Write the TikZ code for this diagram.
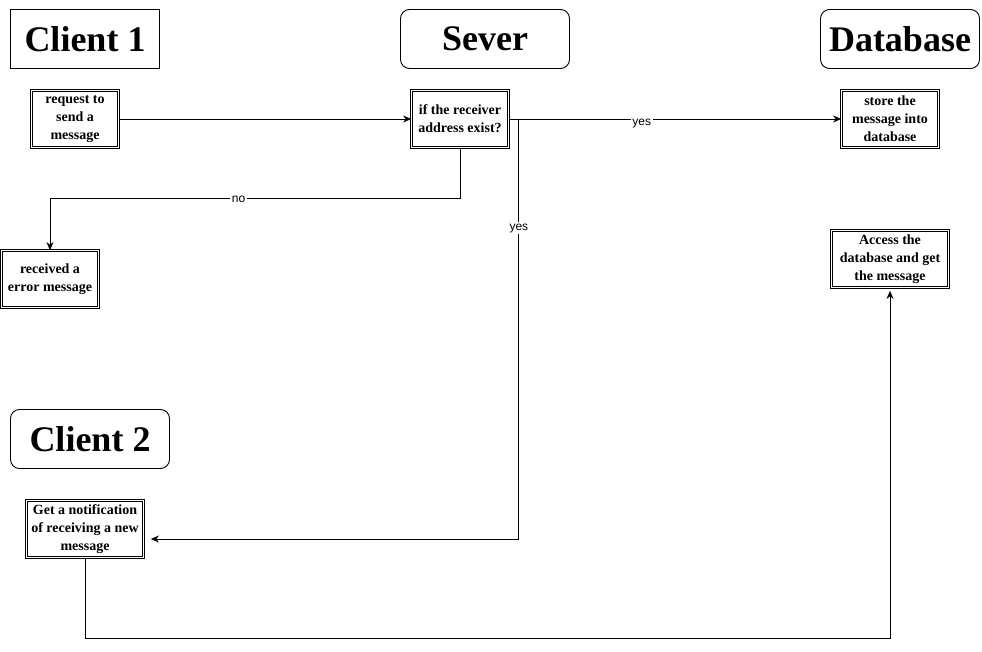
\documentclass[tikz,border=0pt]{standalone}
\usepackage{fontspec}
\setmainfont{Liberation Serif}
\newfontfamily\edgefont{Liberation Sans}
\usetikzlibrary{arrows.meta}

\begin{document}
\begin{tikzpicture}[x=1pt, y=-1pt,
  title/.style={draw, line width=0.9pt, minimum height=59pt, inner sep=0pt,
    font=\fontsize{36}{40}\selectfont\bfseries},
  rtitle/.style={title, rounded corners=9pt},
  stepbox/.style={draw, double, line width=0.7pt, double distance=1.5pt,
    minimum height=57pt, inner sep=0pt, align=center,
    font=\fontsize{14}{18}\selectfont\bfseries},
  flow/.style={-{Stealth[length=8pt,width=7pt,inset=2.5pt]}, line width=0.8pt},
  lbl/.style={fill=white, inner sep=1.5pt, font=\edgefont\fontsize{12}{14}\selectfont}]

\useasboundingbox (0,0) rectangle (982,652);

% Nadpisy
\node[title, minimum width=149pt] (client1) at (85,39) {Client 1};
\node[rtitle, minimum width=169pt] (sever) at (485,39) {Sever};
\node[rtitle, minimum width=159pt] (database) at (900,39) {Database};
\node[rtitle, minimum width=159pt] (client2) at (90,439) {Client 2};

% Kroky
\node[stepbox, minimum width=87pt] (request) at (75,119) {request to\\send a\\message};
\node[stepbox, minimum width=97pt] (check) at (460,119) {if the receiver\\address exist?};
\node[stepbox, minimum width=97pt] (store) at (890,119) {store the\\message into\\database};
\node[stepbox, minimum width=97pt] (error) at (50,279) {received a\\error message};
\node[stepbox, minimum width=117pt] (access) at (890,259) {Access the\\database and get\\the message};
\node[stepbox, minimum width=117pt] (notify) at (85,529) {Get a notification\\of receiving a new\\message};

\coordinate (fork) at ([xshift=10pt]check.east);

% Spojnice
\draw[flow] (request.east) -- (check.west);
\draw[flow] (check.east) -- node[lbl, pos=0.4, yshift=-5pt] {yes} (store.west);
\draw[flow] (check.south) -- ++(0,51) -| node[lbl, pos=0.27] {no} (error.north);
\draw[flow, shorten >=7pt] (fork) |- node[lbl, pos=0.13] {yes} ([yshift=-10pt]notify.east);
\draw[flow, shorten >=3pt] (notify.south) -- ++(0,81) -| (access.south);

\end{tikzpicture}
\end{document}
